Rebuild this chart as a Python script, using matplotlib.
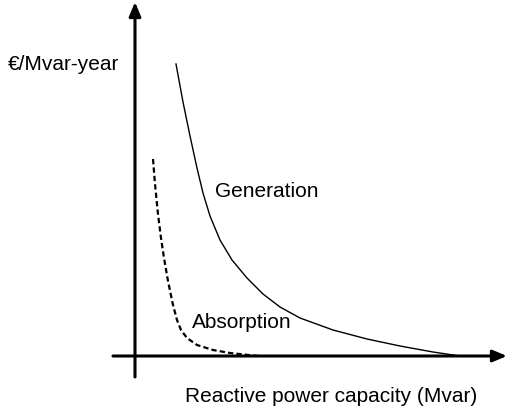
import matplotlib.pyplot as plt

# curve readings (Mvar, €/Mvar-year), arbitrary units from the sketch
gen_x = [41, 48, 55, 62, 68, 75, 85, 97, 112, 128, 145, 165, 198, 232,
         265, 298, 325]
gen_y = [292, 254, 220, 188, 163, 140, 116, 96, 78, 62, 49, 38, 26, 17,
         10, 4, 0]

abs_x = [18, 20, 23, 26, 29, 33, 38, 42, 46, 52, 62, 78, 95, 123]
abs_y = [197, 172, 142, 118, 98, 75, 51, 36, 26, 18, 11, 6, 3, 0]

plt.rcParams['font.family'] = ['Liberation Sans', 'DejaVu Sans']

fig = plt.figure(figsize=(5.08, 4.14), dpi=100)
ax = fig.add_axes([0, 0, 1, 1])
ax.set_xlim(-135, 373)
ax.set_ylim(-57, 357)
ax.axis('off')

# hand-drawn style axes with arrow heads
arrow = dict(arrowstyle='-|>,head_length=0.6,head_width=0.25', lw=2.2,
             color='black', mutation_scale=14, shrinkA=0, shrinkB=0)
ax.annotate('', xy=(372, 0), xytext=(-22, 0), arrowprops=arrow)
ax.annotate('', xy=(0, 354), xytext=(0, -21), arrowprops=arrow)

ax.plot(gen_x, gen_y, color='black', lw=1.0)
ax.plot(abs_x, abs_y, color='black', lw=1.6, linestyle=(0, (2.4, 1.4)))

fs = 15
ax.text(80, 165, 'Generation', fontsize=fs, va='center', ha='left')
ax.text(57, 34, 'Absorption', fontsize=fs, va='center', ha='left')
ax.text(-127, 292, '€/Mvar-year', fontsize=fs, va='center', ha='left')
ax.text(196, -40, 'Reactive power capacity (Mvar)', fontsize=fs,
        va='center', ha='center')

plt.savefig('out.png', dpi=100)
